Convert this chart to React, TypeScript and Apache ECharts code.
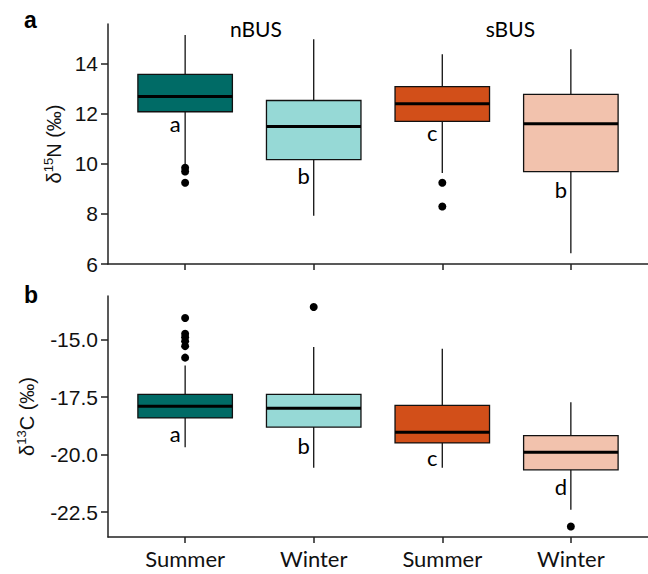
import React, { useEffect, useRef } from "react";
import * as echarts from "echarts";

// categories (x index 0..3)
const categories = ["Summer", "Winter", "Summer", "Winter"];
const regions = ["nBUS", "sBUS"];
const boxColors = ["#006b66", "#96d9d6", "#d24f19", "#f2c2ad"];

// delta 15N: [x, lowerWhisker, Q1, median, Q3, upperWhisker]
const n15Boxes = [
  [0, 9.95, 12.07, 12.68, 13.56, 15.13],
  [1, 7.92, 10.16, 11.48, 12.52, 14.96],
  [2, 9.63, 11.69, 12.39, 13.07, 14.36],
  [3, 6.43, 9.68, 11.59, 12.76, 14.56],
];
const n15Outliers = [
  [0, 9.84],
  [0, 9.69],
  [0, 9.24],
  [2, 9.24],
  [2, 8.29],
];
const n15Letters = ["a", "b", "c", "b"];
const n15LetterY = [11.62, 9.52, 11.24, 8.96];
const n15Ticks = [6, 8, 10, 12, 14];

// delta 13C
const c13Boxes = [
  [0, -19.68, -18.4, -17.89, -17.38, -16.12],
  [1, -20.57, -18.8, -17.98, -17.38, -15.32],
  [2, -20.57, -19.49, -19.02, -17.86, -15.39],
  [3, -22.4, -20.66, -19.9, -19.17, -17.72],
];
const c13Outliers = [
  [0, -14.06],
  [0, -14.74],
  [0, -14.89],
  [0, -15.07],
  [0, -15.28],
  [0, -15.78],
  [1, -13.58],
  [3, -23.12],
];
const c13Letters = ["a", "b", "c", "d"];
const c13LetterY = [-19.1, -19.58, -20.11, -21.37];
const c13Ticks = [-22.5, -20, -17.5, -15];

const BOX_W = 0.735;
const LETTER_DX = -0.078;

export default function App() {
  const ref = useRef<HTMLDivElement>(null);
  useEffect(() => {
    if (!ref.current) return;
    const chart = echarts.init(ref.current, null, { renderer: "svg" });

    const renderBox = (params: any, api: any) => {
      const x = api.value(0);
      const lo = api.coord([x, api.value(1)]);
      const q1 = api.coord([x, api.value(2)]);
      const med = api.coord([x, api.value(3)]);
      const q3 = api.coord([x, api.value(4)]);
      const hi = api.coord([x, api.value(5)]);
      const w = api.size([BOX_W, 0])[0];
      const cx = med[0];
      const left = cx - w / 2;
      const lineStyle = { stroke: "#111", lineWidth: 1.3 };
      return {
        type: "group",
        children: [
          { type: "line", shape: { x1: cx, y1: hi[1], x2: cx, y2: q3[1] }, style: lineStyle },
          { type: "line", shape: { x1: cx, y1: q1[1], x2: cx, y2: lo[1] }, style: lineStyle },
          {
            type: "rect",
            shape: { x: left, y: q3[1], width: w, height: q1[1] - q3[1] },
            style: { fill: boxColors[params.dataIndex], stroke: "#111", lineWidth: 1.3 },
          },
          {
            type: "line",
            shape: { x1: left, y1: med[1], x2: left + w, y2: med[1] },
            style: { stroke: "#000", lineWidth: 3 },
          },
        ],
      };
    };

    const textSeries = (names: string[], xs: number[], ys: number[], idx: number, size: number) => ({
      type: "scatter",
      xAxisIndex: idx,
      yAxisIndex: idx,
      symbolSize: 0,
      silent: true,
      clip: false,
      z: 5,
      itemStyle: { opacity: 1 },
      data: names.map((l, i) => ({ value: [xs[i], ys[i]], name: l })),
      label: {
        show: true,
        position: "inside",
        formatter: (p: any) => p.name,
        fontFamily: "Lato",
        fontSize: size,
        color: "#000",
      },
    });

    const xAxisBase = {
      type: "value",
      min: -0.6,
      max: 3.6,
      splitLine: { show: false },
      axisLine: { show: true, onZero: false, lineStyle: { color: "#222", width: 1.5 } },
      axisTick: { show: true, length: 6, lineStyle: { color: "#222", width: 1.5 }, customValues: [0, 1, 2, 3] },
    };
    const yAxisBase = {
      type: "value",
      splitLine: { show: false },
      axisLine: { show: true, onZero: false, lineStyle: { color: "#222", width: 1.5 } },
      nameLocation: "middle",
      nameRotate: 90,
    };
    const tickFont = { fontFamily: "Liberation Sans", fontSize: 21, color: "#111", margin: 10 };
    const nameRich = {
      t: { fontFamily: "Liberation Sans", fontSize: 20, color: "#111" },
      s: { fontFamily: "Liberation Sans", fontSize: 13, color: "#111", padding: [0, 0, 10, 0] },
    };
    const xs = [0, 1, 2, 3].map((i) => i + LETTER_DX);

    chart.setOption({
      animation: false,
      grid: [
        { left: 108, right: -9, top: 24, bottom: 310, containLabel: false },
        { left: 108, right: -9, top: 296, bottom: 37, containLabel: false },
      ],
      xAxis: [
        { ...xAxisBase, gridIndex: 0, axisLabel: { show: false } },
        {
          ...xAxisBase,
          gridIndex: 1,
          axisLabel: {
            show: true,
            customValues: [0, 1, 2, 3],
            formatter: (v: number) => categories[Math.round(v)] ?? "",
            fontFamily: "Lato",
            fontSize: 22,
            color: "#111",
            margin: 10,
          },
        },
      ],
      yAxis: [
        {
          ...yAxisBase,
          gridIndex: 0,
          min: 6,
          max: 15.57,
          axisTick: { show: true, length: 7, lineStyle: { color: "#222", width: 1.5 }, customValues: n15Ticks },
          axisLabel: { ...tickFont, customValues: n15Ticks, formatter: (v: number) => String(v) },
          name: "{t|δ}{s|15}{t|N (‰)}",
          nameGap: 39,
          nameTextStyle: { rich: nameRich },
        },
        {
          ...yAxisBase,
          gridIndex: 1,
          min: -23.58,
          max: -13.1,
          axisTick: { show: true, length: 7, lineStyle: { color: "#222", width: 1.5 }, customValues: c13Ticks },
          axisLabel: { ...tickFont, customValues: c13Ticks, formatter: (v: number) => v.toFixed(1) },
          name: "{t|δ}{s|13}{t|C (‰)}",
          nameGap: 70,
          nameTextStyle: { rich: nameRich },
        },
      ],
      graphic: [
        { type: "text", left: 24, top: 8, style: { text: "a", font: "bold 23px 'Liberation Sans'", fill: "#000" } },
        { type: "text", left: 24, top: 283, style: { text: "b", font: "bold 23px 'Liberation Sans'", fill: "#000" } },
      ],
      series: [
        {
          type: "custom",
          xAxisIndex: 0,
          yAxisIndex: 0,
          renderItem: renderBox,
          encode: { x: 0, y: [1, 2, 3, 4, 5] },
          data: n15Boxes,
          clip: false,
          z: 2,
        },
        {
          type: "scatter",
          xAxisIndex: 0,
          yAxisIndex: 0,
          symbolSize: 8,
          itemStyle: { color: "#000", opacity: 1 },
          data: n15Outliers,
          z: 3,
        },
        textSeries(n15Letters, xs, n15LetterY, 0, 22),
        textSeries(regions, [0.55, 2.53], [15.4, 15.4], 0, 21),
        {
          type: "custom",
          xAxisIndex: 1,
          yAxisIndex: 1,
          renderItem: renderBox,
          encode: { x: 0, y: [1, 2, 3, 4, 5] },
          data: c13Boxes,
          clip: false,
          z: 2,
        },
        {
          type: "scatter",
          xAxisIndex: 1,
          yAxisIndex: 1,
          symbolSize: 8,
          itemStyle: { color: "#000", opacity: 1 },
          data: c13Outliers,
          z: 3,
        },
        textSeries(c13Letters, xs, c13LetterY, 1, 22),
      ],
    });
    return () => chart.dispose();
  }, []);

  return (
    <div
      ref={ref}
      style={{ position: "fixed", left: 0, top: 0, width: 648, height: 574, background: "#fff" }}
    />
  );
}
